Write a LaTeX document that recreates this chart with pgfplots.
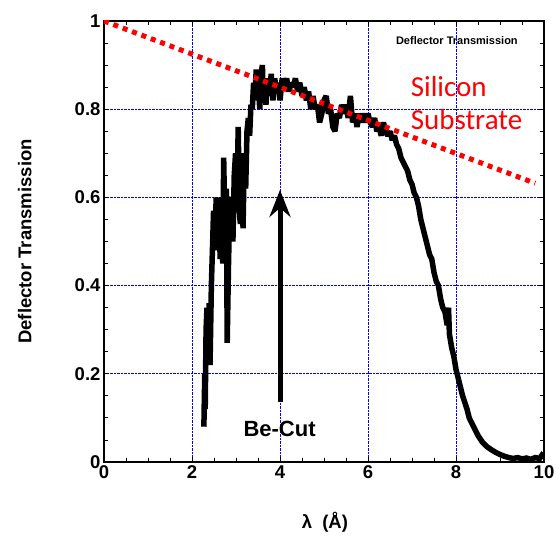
\documentclass[border=0pt]{standalone}
\usepackage{pgfplots}
\pgfplotsset{compat=1.18}
\usepackage{fontspec}
\setmainfont{Liberation Sans}
\newfontfamily\carlito{Carlito}
\usetikzlibrary{arrows.meta}

\pgfplotstableread{
x y
2.27 0.08
2.29 0.20
2.30 0.12
2.32 0.30
2.34 0.35
2.37 0.24
2.39 0.36
2.41 0.22
2.44 0.40
2.47 0.50
2.49 0.57
2.52 0.50
2.55 0.60
2.58 0.48
2.61 0.60
2.64 0.46
2.67 0.55
2.70 0.45
2.72 0.69
2.75 0.52
2.78 0.62
2.80 0.27
2.83 0.45
2.86 0.59
2.90 0.60
2.93 0.50
2.96 0.65
2.99 0.70
3.02 0.58
3.05 0.76
3.08 0.56
3.10 0.54
3.13 0.67
3.16 0.53
3.19 0.70
3.22 0.62
3.25 0.75
3.28 0.78
3.31 0.74
3.34 0.81
3.37 0.80
3.40 0.86
3.43 0.83
3.46 0.89
3.48 0.82
3.51 0.85
3.54 0.80
3.57 0.88
3.60 0.90
3.62 0.82
3.65 0.86
3.68 0.81
3.72 0.87
3.76 0.83
3.80 0.88
3.84 0.82
3.88 0.87
3.92 0.84
3.96 0.86
4.00 0.82
4.05 0.87
4.10 0.85
4.15 0.87
4.20 0.84
4.25 0.86
4.30 0.85
4.35 0.87
4.40 0.84
4.45 0.86
4.50 0.83
4.55 0.85
4.60 0.82
4.65 0.84
4.70 0.80
4.75 0.83
4.80 0.80
4.85 0.81
4.90 0.77
4.95 0.79
5.00 0.82
5.05 0.83
5.10 0.79
5.15 0.80
5.20 0.76
5.25 0.75
5.30 0.79
5.35 0.78
5.40 0.81
5.45 0.79
5.50 0.81
5.55 0.78
5.60 0.83
5.65 0.77
5.70 0.79
5.75 0.76
5.80 0.79
5.85 0.77
5.90 0.79
5.95 0.77
6.00 0.79
6.05 0.77
6.10 0.76
6.15 0.78
6.20 0.75
6.25 0.76
6.30 0.74
6.35 0.77
6.40 0.75
6.45 0.74
6.50 0.75
6.55 0.73
6.60 0.74
6.65 0.72
6.70 0.71
6.75 0.69
6.80 0.68
6.85 0.67
6.90 0.66
6.95 0.64
7.00 0.63
7.05 0.61
7.10 0.60
7.15 0.58
7.20 0.55
7.25 0.53
7.30 0.51
7.35 0.49
7.40 0.47
7.45 0.46
7.50 0.43
7.55 0.41
7.60 0.40
7.65 0.37
7.70 0.35
7.75 0.34
7.80 0.31
7.83 0.35
7.85 0.29
7.90 0.26
7.95 0.24
8.00 0.21
8.05 0.19
8.10 0.17
8.15 0.15
8.20 0.135
8.25 0.12
8.30 0.10
8.35 0.09
8.40 0.08
8.50 0.06
8.60 0.045
8.70 0.035
8.80 0.028
8.90 0.022
9.00 0.017
9.10 0.013
9.20 0.010
9.30 0.008
9.40 0.010
9.50 0.007
9.60 0.009
9.70 0.006
9.80 0.010
9.90 0.008
9.95 0.015
10.0 0.010
}\measured

\pgfplotstableread{
x y
0 1
9.8 0.632
}\silicon

\begin{document}
\begin{tikzpicture}
\begin{axis}[
  scale only axis, width=440pt, height=441pt,
  xmin=0, xmax=10, ymin=0, ymax=1,
  xtick={0,2,4,6,8,10}, ytick={0,0.2,0.4,0.6,0.8,1},
  minor x tick num=3, minor y tick num=3,
  grid=major,
  major grid style={blue, densely dotted, line width=1pt},
  axis line style={line width=2.5pt},
  tick style={black, line width=0.8pt},
  tick align=inside,
  major tick length=5pt, minor tick length=4pt,
  /pgf/number format/assume math mode=true,
  tick label style={font=\fontsize{18.5}{20}\selectfont\bfseries},
  label style={font=\fontsize{18.5}{20}\selectfont\bfseries},
  xlabel={λ\ \ (Å)},
  ylabel={Deflector Transmission},
  xlabel style={at={(axis description cs:0.502,-0.136)}, anchor=center},
  ylabel style={at={(axis description cs:-0.18,0.5)}, anchor=center},
]
\addplot[black, line width=5.5pt, line join=miter, miter limit=2] table {\measured};
\addplot[red, line width=5pt, dash pattern=on 5pt off 5pt] table {\silicon};
\node[anchor=base west, text=red, font=\carlito\fontsize{29}{33}\selectfont, inner sep=0pt] at (axis cs:6.97,0.828) {Silicon};
\node[anchor=base west, text=red, font=\carlito\fontsize{29}{33}\selectfont, inner sep=0pt] at (axis cs:6.97,0.753) {Substrate};
\node[font=\bfseries\fontsize{22}{24}\selectfont] at (axis cs:3.99,0.075) {Be-Cut};
\node[font=\bfseries\fontsize{11}{12}\selectfont] at (axis cs:8.02,0.955) {Deflector Transmission};
\draw[line width=5pt, -{Stealth[length=27pt,width=21pt,inset=9pt]}] (axis cs:4,0.136) -- (axis cs:4,0.617);
\end{axis}
\pgfresetboundingbox
\path ([shift={(-104pt,-80pt)}]current axis.south west) rectangle ([shift={(15pt,21pt)}]current axis.north east);
\end{tikzpicture}
\end{document}
